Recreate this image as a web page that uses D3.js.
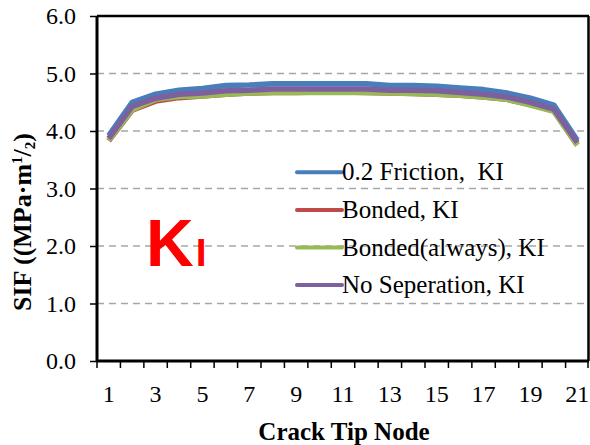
<!DOCTYPE html>
<html><head><meta charset="utf-8">
<script src="https://cdn.jsdelivr.net/npm/d3@7"></script>
<style>body{margin:0;background:#fff}svg{display:block}</style>
</head><body>
<svg id="c" width="590" height="445"></svg>
<script>
const nodes = d3.range(1, 22);
const seriesNames = ["0.2 Friction,  KI", "Bonded, KI", "Bonded(always), KI", "No Seperation, KI"];
const seriesColors = ["#4a7ebb", "#be4b48", "#98b954", "#7d60a0"];
const friction = [3.92,4.50,4.64,4.71,4.74,4.79,4.80,4.82,4.82,4.82,4.82,4.82,4.79,4.79,4.78,4.75,4.72,4.66,4.57,4.45,3.84];
const bonded = [3.83,4.36,4.52,4.58,4.61,4.64,4.66,4.67,4.67,4.68,4.68,4.67,4.66,4.65,4.64,4.62,4.59,4.55,4.46,4.35,3.76];
const bondedAlways = [3.84,4.37,4.55,4.60,4.61,4.64,4.66,4.67,4.67,4.67,4.67,4.67,4.66,4.65,4.64,4.62,4.59,4.55,4.45,4.34,3.75];
const noSeparation = [3.87,4.43,4.57,4.64,4.66,4.70,4.71,4.73,4.73,4.73,4.73,4.73,4.71,4.71,4.70,4.67,4.64,4.59,4.50,4.38,3.80];
const yTicks = [0,1,2,3,4,5,6];
const xLabels = [1,3,5,7,9,11,13,15,17,19,21];
const allSeries = [friction, bonded, bondedAlways, noSeparation];

const SERIF = "'Liberation Serif', 'Times New Roman', serif";
const svg = d3.select("#c");
const L = 97, R = 589, T = 16, B = 361;
const x = d3.scaleBand().domain(nodes).range([L, R]).paddingInner(0).paddingOuter(0);
const y = d3.scaleLinear().domain([0, 6]).range([B, T]);
const cx = d => x(d) + x.bandwidth() / 2;

// gridlines
svg.append("g").selectAll("line").data(yTicks.filter(v => v > 0 && v < 6)).join("line")
  .attr("x1", L).attr("x2", R).attr("y1", d => y(d)).attr("y2", d => y(d))
  .attr("stroke", "#a6a6a6").attr("stroke-width", 1.5).attr("stroke-dasharray", "7,5");

// frame (top/right)
svg.append("line").attr("x1", L).attr("x2", R).attr("y1", T).attr("y2", T).attr("stroke", "#000").attr("stroke-width", 2.5);
svg.append("line").attr("x1", R - 0.5).attr("x2", R - 0.5).attr("y1", T).attr("y2", B).attr("stroke", "#000").attr("stroke-width", 2.5);

// y axis
const yAxis = svg.append("g").attr("transform", `translate(${L},0)`)
  .call(d3.axisLeft(y).tickValues(yTicks).tickFormat(d3.format(".1f")).tickSize(7).tickPadding(14));
yAxis.select(".domain").attr("stroke-width", 3).attr("d", `M0,${T}V${B}`);
yAxis.selectAll(".tick line").attr("stroke-width", 1.5);
yAxis.selectAll("text").style("font-family", SERIF).style("font-size", "24px").attr("fill", "#000");

// x axis
const xAxis = svg.append("g").attr("transform", `translate(0,${B})`)
  .call(d3.axisBottom(x).tickValues([]).tickSize(0));
xAxis.select(".domain").attr("stroke-width", 3).attr("d", `M${L},0H${R}`);
const bounds = nodes.map(n => x(n)).concat([R - 1]);
xAxis.selectAll("line.tk").data(bounds).join("line").attr("class", "tk")
  .attr("x1", d => d).attr("x2", d => d).attr("y1", 0).attr("y2", 7)
  .attr("stroke", "#000").attr("stroke-width", 1.5);
xAxis.selectAll("text.lb").data(xLabels).join("text").attr("class", "lb")
  .attr("x", d => cx(d)).attr("y", 41).attr("text-anchor", "middle").attr("fill", "#000")
  .style("font-family", SERIF).style("font-size", "24px").text(d => d);

// lines
const line = d3.line().x((d, i) => cx(nodes[i])).y(d => y(d));
svg.append("g").selectAll("path").data(allSeries).join("path")
  .attr("d", line).attr("fill", "none")
  .attr("stroke", (d, i) => seriesColors[i]).attr("stroke-width", 5.5)
  .attr("stroke-linejoin", "round");

// titles
svg.append("text").attr("x", 344).attr("y", 440).attr("text-anchor", "middle")
  .style("font-family", SERIF).attr("font-weight", "bold").style("font-size", "25px")
  .text("Crack Tip Node");
const yt = svg.append("text").attr("transform", "translate(31,222) rotate(-90)").attr("text-anchor", "middle")
  .style("font-family", SERIF).attr("font-weight", "bold").style("font-size", "26px");
yt.append("tspan").text("SIF ((MPa·m");
yt.append("tspan").attr("dy", -9).style("font-size", "15px").text("1");
yt.append("tspan").attr("dy", 9).text("/");
yt.append("tspan").attr("dy", 4).style("font-size", "15px").text("2");
yt.append("tspan").attr("dy", -4).text(")");

// legend
const lg = svg.append("g").selectAll("g").data(seriesNames).join("g")
  .attr("transform", (d, i) => `translate(297,${172.3 + i * 37.6})`);
lg.append("line").attr("x1", 0).attr("x2", 45).attr("stroke", (d, i) => seriesColors[i]).attr("stroke-width", 4).attr("stroke-linecap", "round");
lg.append("text").attr("x", 45).attr("y", 8).style("font-family", SERIF)
  .style("font-size", "25px").style("white-space", "pre").text(d => d);

// K_I label
const k = svg.append("text").attr("x", 146).attr("y", 266).attr("fill", "#ff0000")
  .style("font-family", "'Liberation Sans', Arial, sans-serif").attr("font-weight", "bold");
k.append("tspan").style("font-size", "66px").text("K");
k.append("tspan").style("font-size", "39px").attr("dx", 2).text("I");
</script>
</body></html>
